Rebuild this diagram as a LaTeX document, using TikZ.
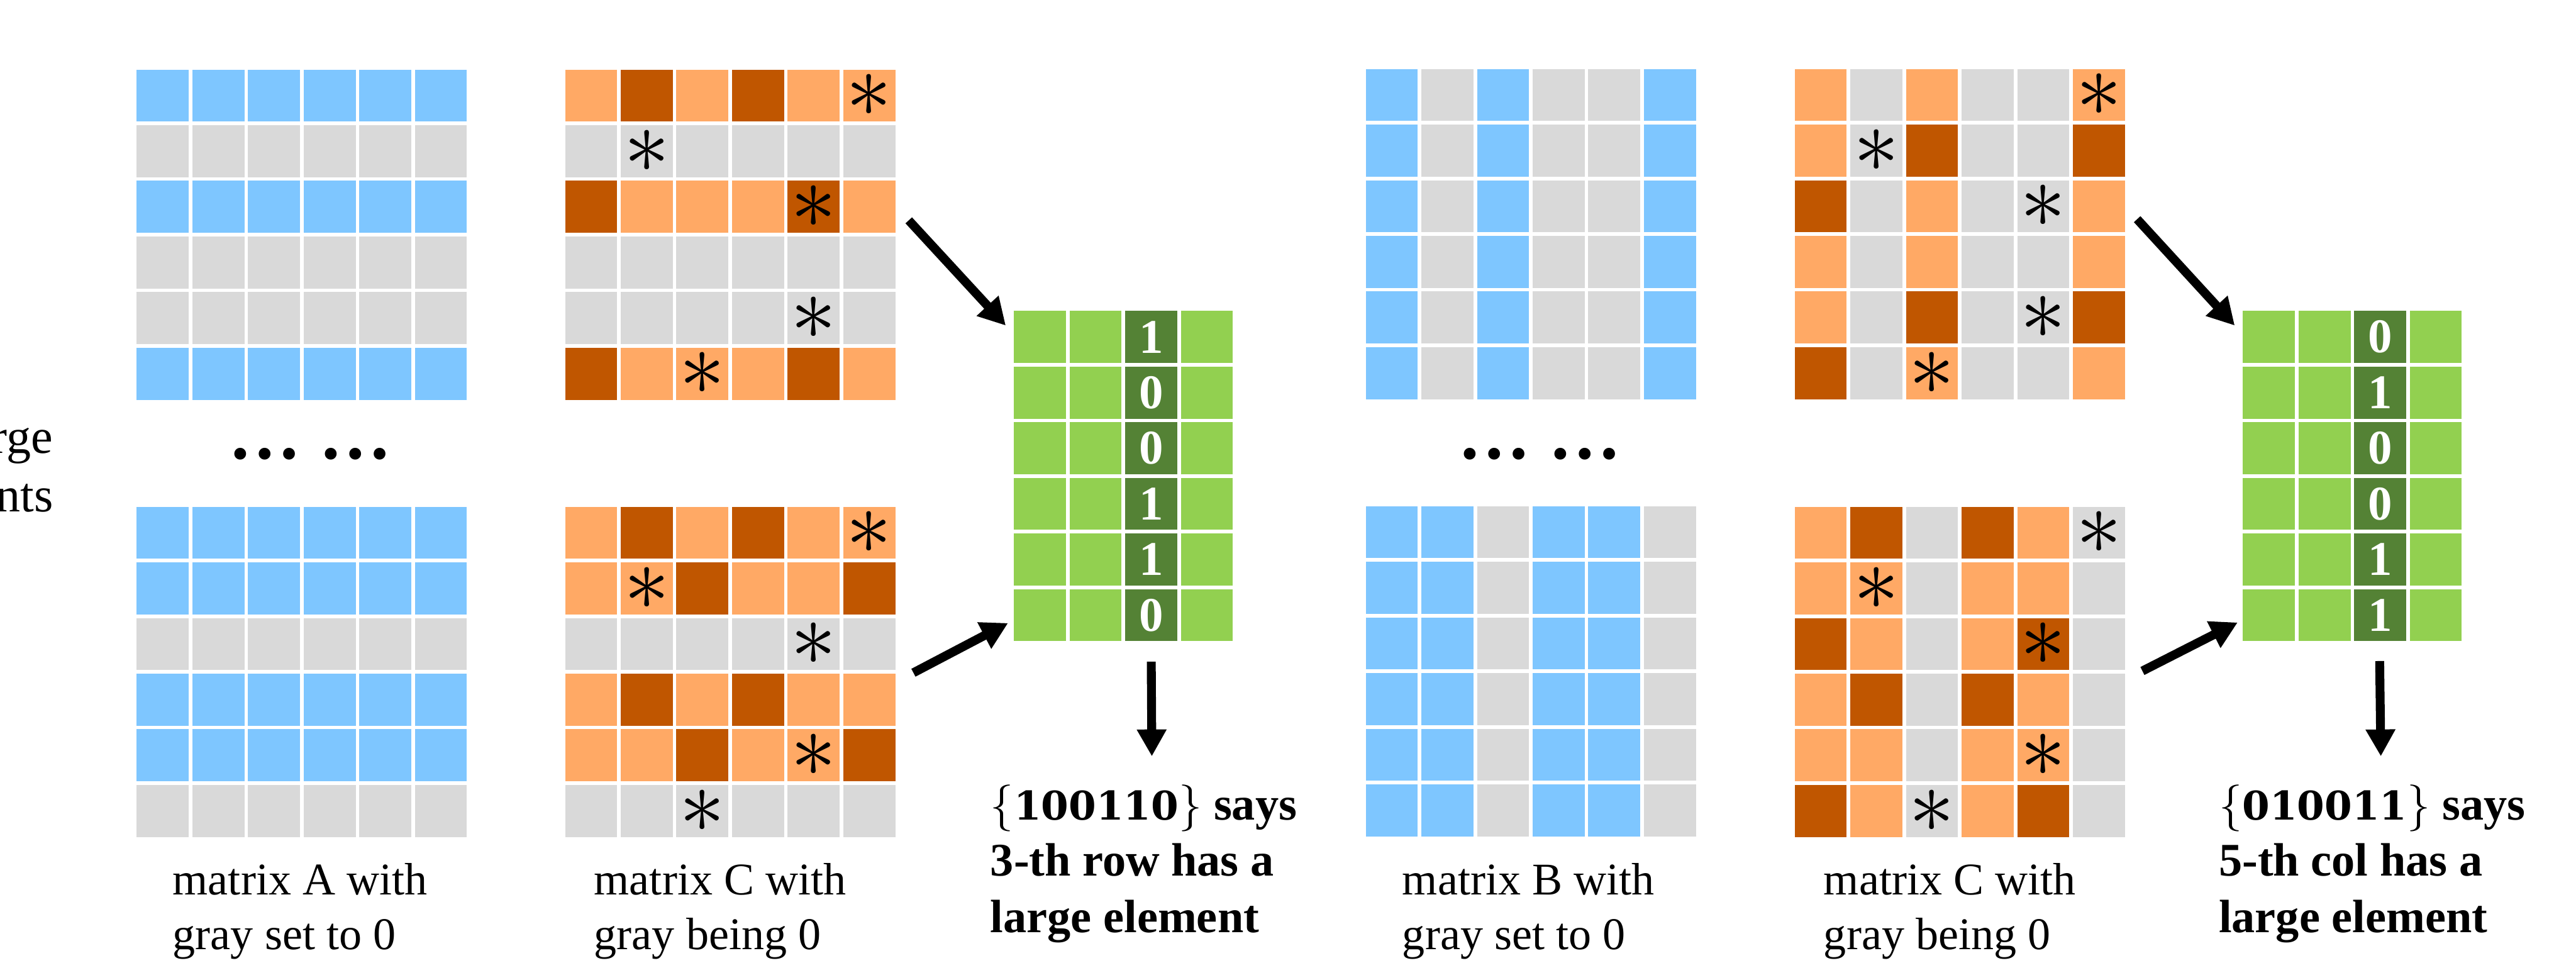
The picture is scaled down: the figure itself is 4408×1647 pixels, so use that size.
\RequirePackage{fix-cm}
\documentclass[tikz,border=0pt]{standalone}
\usepackage[no-math]{fontspec}
\setmainfont{Liberation Serif}
\newfontfamily\djvserif{DejaVu Serif}
\usetikzlibrary{arrows.meta}
\definecolor{blu}{HTML}{7EC6FF}
\definecolor{gry}{HTML}{D9D9D9}
\definecolor{orL}{HTML}{FFA965}
\definecolor{orD}{HTML}{C05600}
\definecolor{grL}{HTML}{92D050}
\definecolor{grD}{HTML}{548235}
\newcommand\bitstr[1]{{\djvserif\bfseries\fontsize{16.9}{24}\selectfont #1}}
\tikzset{
  cell/.style={minimum width=22.25pt, minimum height=22.25pt, inner sep=0pt, outer sep=0pt, draw=none},
  cB/.style={fill=blu}, cG/.style={fill=gry}, cO/.style={fill=orL}, cD/.style={fill=orD}, cL/.style={fill=grL},
  starlbl/.style={inner sep=0pt, font=\fontsize{39}{39}\selectfont},
  digitlbl/.style={inner sep=0pt, text=white, font=\bfseries\fontsize{20.7}{21}\selectfont},
  sO/.style={fill=orL, label={[starlbl]center:$\ast$}},
  sD/.style={fill=orD, label={[starlbl]center:$\ast$}},
  sG/.style={fill=gry, label={[starlbl]center:$\ast$}},
  vone/.style={fill=grD, label={[digitlbl]center:1}},
  vzero/.style={fill=grD, label={[digitlbl]center:0}},
  arr/.style={line width=3.8pt, -{Triangle[length=11.5pt,width=12pt]}},
  lbl/.style={font=\fontsize{19.4}{23.5}\selectfont, align=left, inner sep=0pt, anchor=base west},
  res/.style={font=\bfseries\fontsize{20}{24}\selectfont, align=left, inner sep=0pt, anchor=base west},
  dots/.style={font=\bfseries\fontsize{31}{31}\selectfont, inner sep=0pt, anchor=base},
  side/.style={font=\fontsize{21}{25}\selectfont, inner sep=0pt, anchor=base east},
}
% #1 name prefix, #2 x0, #3 y0, #4 row index, #5 list of cell styles
\newcommand\mrow[5]{%
  \foreach \k [count=\cc from 0] in {#5}{%
    \edef\mytmp{\noexpand\node[cell,\k] (#1-#4-\cc) at ({#2+44.5+\cc*95.2},{#3+44.5+#4*95.2}) {};}%
    \mytmp}}
\begin{document}
\begin{tikzpicture}[x=0.25pt,y=-0.25pt]
\fill[white] (0,0) rectangle (4408,1647);
\useasboundingbox (0,0) rectangle (4408,1647);

% ---------- matrix A top ----------
\mrow{At}{234}{119}{0}{cB,cB,cB,cB,cB,cB}
\mrow{At}{234}{119}{1}{cG,cG,cG,cG,cG,cG}
\mrow{At}{234}{119}{2}{cB,cB,cB,cB,cB,cB}
\mrow{At}{234}{119}{3}{cG,cG,cG,cG,cG,cG}
\mrow{At}{234}{119}{4}{cG,cG,cG,cG,cG,cG}
\mrow{At}{234}{119}{5}{cB,cB,cB,cB,cB,cB}
% ---------- matrix A bottom ----------
\mrow{Ab}{234}{867}{0}{cB,cB,cB,cB,cB,cB}
\mrow{Ab}{234}{867}{1}{cB,cB,cB,cB,cB,cB}
\mrow{Ab}{234}{867}{2}{cG,cG,cG,cG,cG,cG}
\mrow{Ab}{234}{867}{3}{cB,cB,cB,cB,cB,cB}
\mrow{Ab}{234}{867}{4}{cB,cB,cB,cB,cB,cB}
\mrow{Ab}{234}{867}{5}{cG,cG,cG,cG,cG,cG}
% ---------- matrix C top (left) ----------
\mrow{Ct}{967}{119}{0}{cO,cD,cO,cD,cO,sO}
\mrow{Ct}{967}{119}{1}{cG,sG,cG,cG,cG,cG}
\mrow{Ct}{967}{119}{2}{cD,cO,cO,cO,sD,cO}
\mrow{Ct}{967}{119}{3}{cG,cG,cG,cG,cG,cG}
\mrow{Ct}{967}{119}{4}{cG,cG,cG,cG,sG,cG}
\mrow{Ct}{967}{119}{5}{cD,cO,sO,cO,cD,cO}
% ---------- matrix C bottom (left) ----------
\mrow{Cb}{967}{867}{0}{cO,cD,cO,cD,cO,sO}
\mrow{Cb}{967}{867}{1}{cO,sO,cD,cO,cO,cD}
\mrow{Cb}{967}{867}{2}{cG,cG,cG,cG,sG,cG}
\mrow{Cb}{967}{867}{3}{cO,cD,cO,cD,cO,cO}
\mrow{Cb}{967}{867}{4}{cO,cO,cD,cO,sO,cD}
\mrow{Cb}{967}{867}{5}{cG,cG,sG,cG,cG,cG}
% ---------- green (left) ----------
\mrow{Gl}{1735}{532}{0}{cL,cL,vone,cL}
\mrow{Gl}{1735}{532}{1}{cL,cL,vzero,cL}
\mrow{Gl}{1735}{532}{2}{cL,cL,vzero,cL}
\mrow{Gl}{1735}{532}{3}{cL,cL,vone,cL}
\mrow{Gl}{1735}{532}{4}{cL,cL,vone,cL}
\mrow{Gl}{1735}{532}{5}{cL,cL,vzero,cL}
% ---------- matrix B top ----------
\foreach \r in {0,...,5}{\mrow{Bt}{2337}{118}{\r}{cB,cG,cB,cG,cG,cB}}
% ---------- matrix B bottom ----------
\foreach \r in {0,...,5}{\mrow{Bb}{2337}{866}{\r}{cB,cB,cG,cB,cB,cG}}
% ---------- matrix C top (right) ----------
\mrow{Rt}{3071}{118}{0}{cO,cG,cO,cG,cG,sO}
\mrow{Rt}{3071}{118}{1}{cO,sG,cD,cG,cG,cD}
\mrow{Rt}{3071}{118}{2}{cD,cG,cO,cG,sG,cO}
\mrow{Rt}{3071}{118}{3}{cO,cG,cO,cG,cG,cO}
\mrow{Rt}{3071}{118}{4}{cO,cG,cD,cG,sG,cD}
\mrow{Rt}{3071}{118}{5}{cD,cG,sO,cG,cG,cO}
% ---------- matrix C bottom (right) ----------
\mrow{Rb}{3071}{867}{0}{cO,cD,cG,cD,cO,sG}
\mrow{Rb}{3071}{867}{1}{cO,sO,cG,cO,cO,cG}
\mrow{Rb}{3071}{867}{2}{cD,cO,cG,cO,sD,cG}
\mrow{Rb}{3071}{867}{3}{cO,cD,cG,cD,cO,cG}
\mrow{Rb}{3071}{867}{4}{cO,cO,cG,cO,sO,cG}
\mrow{Rb}{3071}{867}{5}{cD,cO,sG,cO,cD,cG}
% ---------- green (right) ----------
\mrow{Gr}{3838}{532}{0}{cL,cL,vzero,cL}
\mrow{Gr}{3838}{532}{1}{cL,cL,vone,cL}
\mrow{Gr}{3838}{532}{2}{cL,cL,vzero,cL}
\mrow{Gr}{3838}{532}{3}{cL,cL,vzero,cL}
\mrow{Gr}{3838}{532}{4}{cL,cL,vone,cL}
\mrow{Gr}{3838}{532}{5}{cL,cL,vone,cL}

% ---------- texts ----------
\node[side] (sd1) at (91,775) {rge};
\node[side] (sd2) at (92,875) {nts};
\node[dots] (dl) at (531,785) {… …};
\node[dots] (dr) at (2635,785) {… …};
% (base anchor of a multi-line node = baseline of its last line)
\node[lbl] (la) at (295,1625) {matrix A with\\gray set to 0};
\node[lbl] (lc) at (1016,1625) {matrix C with\\gray being 0};
\node[lbl] (lb) at (2399,1625) {matrix B with\\gray set to 0};
\node[lbl] (lr) at (3120,1625) {matrix C with\\gray being 0};
\node[res] (tl) at (1694,1595) {$\{$\bitstr{100110}$\}$ says\\3-th row has a\\large element};
\node[res] (tr) at (3796,1595) {$\{$\bitstr{010011}$\}$ says\\5-th col has a\\large element};

% ---------- arrows ----------
\coordinate (a1s) at (1555,377);  \coordinate (a1e) at (1721,557);
\coordinate (a2s) at (1563,1151); \coordinate (a2e) at (1725,1066);
\coordinate (a3s) at (1970,1132); \coordinate (a3e) at (1971,1294);
\coordinate (b1s) at (3657,375);  \coordinate (b1e) at (3824,557);
\coordinate (b2s) at (3666,1148); \coordinate (b2e) at (3829,1065);
\coordinate (b3s) at (4072,1131); \coordinate (b3e) at (4074,1294);
\draw[arr] (a1s) -- (a1e);
\draw[arr] (a2s) -- (a2e);
\draw[arr] (a3s) -- (a3e);
\draw[arr] (b1s) -- (b1e);
\draw[arr] (b2s) -- (b2e);
\draw[arr] (b3s) -- (b3e);
\end{tikzpicture}
\end{document}
